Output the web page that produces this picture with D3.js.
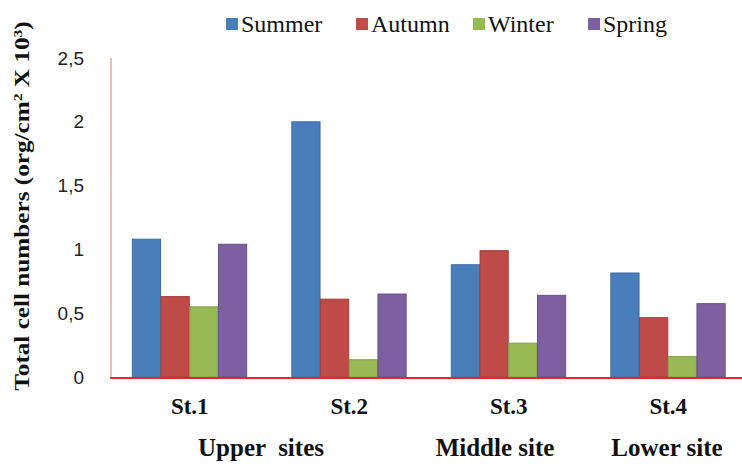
<!DOCTYPE html>
<html lang="en">
<head>
  <meta charset="UTF-8">
  <title>Total cell numbers by season</title>
  <script src="https://d3js.org/d3.v7.min.js"></script>
  <style>
    body { margin: 0; background: #fff; }
    .tick text { font-family: "Liberation Sans", Arial, sans-serif; font-size: 19px; fill: #222; }
    .lbl { font-family: "Liberation Serif", "Times New Roman", serif; font-weight: bold; fill: #111; }
    .leg { font-family: "Liberation Serif", "Times New Roman", serif; font-size: 24px; fill: #111; }
  </style>
</head>
<body>
  <div id="chart"></div>
  <script>
    const stations = ["St.1", "St.2", "St.3", "St.4"];
    const seasons = ["Summer", "Autumn", "Winter", "Spring"];
    const summer = [1.08, 2.0, 0.88, 0.815];
    const autumn = [0.63, 0.61, 0.99, 0.465];
    const winter = [0.55, 0.135, 0.265, 0.16];
    const spring = [1.04, 0.65, 0.64, 0.575];
    const yTicks = [0, 0.5, 1, 1.5, 2, 2.5];
    const siteLabels = ["Upper  sites", "Middle site", "Lower site"];
    const siteX = [261, 495, 667];

    const colors = ["#4a7ebb", "#be4b48", "#98b954", "#7d60a0"];
    const strokes = ["#3c6aa3", "#a63c3a", "#83a046", "#6a4f8a"];
    const series = [summer, autumn, winter, spring];

    const W = 742, H = 464;
    const svg = d3.select("#chart").append("svg").attr("width", W).attr("height", H);

    const x0 = d3.scaleBand().domain(stations).range([110, 748]).paddingInner(0.28).paddingOuter(0.14);
    const x1 = d3.scaleBand().domain(seasons).range([0, x0.bandwidth()]);
    const y = d3.scaleLinear().domain([0, 2.5]).range([377, 58]);

    // y axis labels (no tick marks, just numbers with comma decimals)
    const yAxis = svg.append("g").attr("transform", "translate(111,0)")
      .call(d3.axisLeft(y).tickValues(yTicks).tickSize(0)
        .tickFormat(d => String(d).replace(".", ",")));
    yAxis.select(".domain").remove();
    yAxis.selectAll(".tick text").attr("x", -27).attr("text-anchor", "end");
    svg.append("line").attr("x1", 111).attr("x2", 111).attr("y1", 58).attr("y2", 378)
      .attr("stroke", "#e07a7a").attr("stroke-width", 1);

    // bars
    const data = stations.flatMap((st, i) => seasons.map((s, j) => ({ st, s, j, v: series[j][i] })));
    svg.append("g").selectAll("rect").data(data).enter().append("rect")
      .attr("x", d => x0(d.st) + x1(d.s))
      .attr("y", d => y(d.v))
      .attr("width", x1.bandwidth() - 0.5)
      .attr("height", d => y(0) - y(d.v))
      .attr("fill", d => colors[d.j])
      .attr("stroke", d => strokes[d.j])
      .attr("stroke-width", 1);

    // x axis line
    svg.append("line").attr("x1", 110).attr("x2", W).attr("y1", 378).attr("y2", 378)
      .attr("stroke", "#e02a2a").attr("stroke-width", 2);

    // station labels
    svg.append("g").selectAll("text").data(stations).enter().append("text")
      .attr("class", "lbl").attr("font-size", 23)
      .attr("x", d => x0(d) + x0.bandwidth() / 2)
      .attr("y", 414).attr("text-anchor", "middle").text(d => d);

    svg.append("g").selectAll("text").data(siteLabels).enter().append("text")
      .attr("class", "lbl").attr("font-size", 25)
      .style("white-space", "pre")
      .attr("x", (d, i) => siteX[i]).attr("y", 456).attr("text-anchor", "middle").text(d => d);

    // y title
    svg.append("text").attr("class", "lbl").attr("font-size", 21)
      .attr("transform", "translate(22,206) rotate(-90) scale(1.2,1)")
      .attr("text-anchor", "middle").attr("dy", "0.35em")
      .html('Total cell numbers (org/cm<tspan dy="-7" font-size="13">2</tspan><tspan dy="7"> X 10</tspan><tspan dy="-7" font-size="13">3</tspan><tspan dy="7">)</tspan>');

    // legend
    const legX = [226, 356, 473, 588];
    const leg = svg.append("g").selectAll("g").data(seasons).enter().append("g")
      .attr("transform", (d, i) => `translate(${legX[i]},0)`);
    leg.append("rect").attr("x", 0).attr("y", 18).attr("width", 12).attr("height", 12)
      .attr("fill", (d, i) => colors[i]);
    leg.append("text").attr("class", "leg").attr("x", 15).attr("y", 32).text(d => d);
  </script>
</body>
</html>
